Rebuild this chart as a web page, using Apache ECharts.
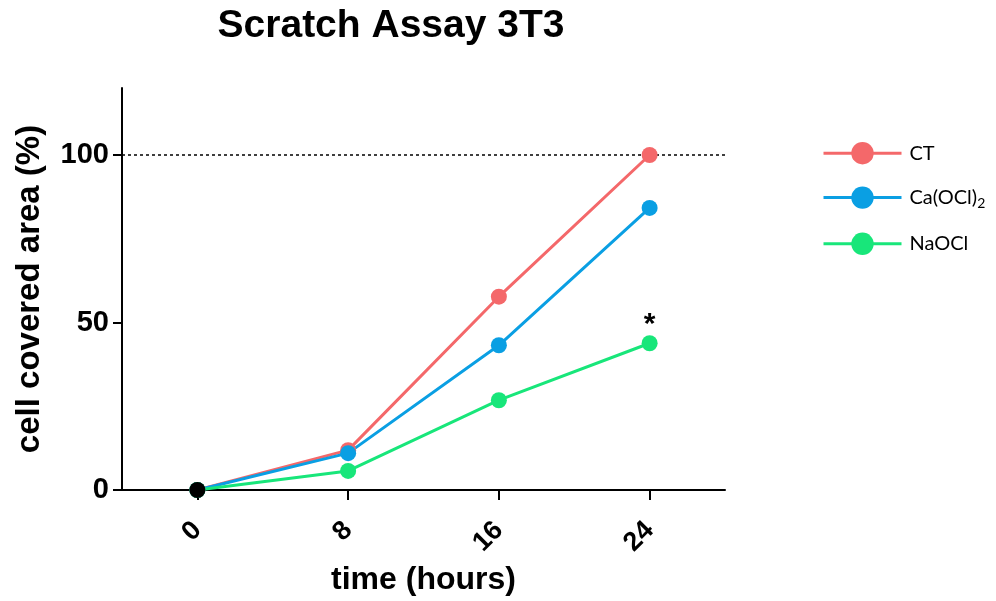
<!DOCTYPE html>
<html><head><meta charset="utf-8">
<script src="https://cdn.jsdelivr.net/npm/echarts@6/dist/echarts.min.js"></script>
<style>html,body{margin:0;padding:0;background:#fff}#c{width:996px;height:601px}</style>
</head><body><div id="c"></div>
<script>
const categories = ['0', '8', '16', '24'];
const ctValues = [0, 11.9, 57.7, 100];
const caValues = [0, 11.0, 43.2, 84.2];
const naValues = [0, 5.7, 26.8, 43.8];
const yTicks = [0, 50, 100];
const seriesNames = ['CT', 'Ca(OCl)2', 'NaOCl'];
const colors = ['#F4686A', '#0A9FE3', '#18E67A'];

const chart = echarts.init(document.getElementById('c'));
const font = '"Liberation Sans", Arial, sans-serif';
function lineSeries(name, data, color, extra) {
  return Object.assign({
    name: name, type: 'line', data: data, symbol: 'circle', symbolSize: 16,
    lineStyle: { width: 3, color: color }, itemStyle: { color: color },
    z: 3
  }, extra || {});
}
const naData = naValues.map((v, i) => i === naValues.length - 1
  ? { value: v, label: { show: true, formatter: '*', position: 'top', distance: -4, fontSize: 30, fontWeight: 'bold', color: '#000', fontFamily: font } }
  : v);
chart.setOption({
  animation: false,
  title: {
    text: 'Scratch Assay 3T3', left: 391, top: 7, textAlign: 'center', padding: 0,
    textStyle: { fontSize: 39, fontWeight: 'bold', color: '#000', fontFamily: font }
  },
  legend: {
    orient: 'vertical', left: 822, top: 142, itemWidth: 78, itemHeight: 28, itemGap: 22, padding: 0,
    data: seriesNames,
    lineStyle: { width: 3 },
    formatter: n => n === 'Ca(OCl)2' ? 'Ca(OCl){sub|2}' : n,
    textStyle: { fontSize: 20, color: '#000', fontFamily: 'Lato, sans-serif', padding: [0, 0, 0, 3],
      rich: { sub: { fontSize: 14, verticalAlign: 'bottom', padding: [12, 0, 0, 0], color: '#000', fontFamily: 'Lato, sans-serif' } } }
  },
  grid: { left: 122, right: 271, top: 88, bottom: 111, containLabel: false, outerBoundsMode: 'none' },
  xAxis: {
    type: 'category', data: categories, boundaryGap: true,
    name: 'time (hours)', nameLocation: 'middle', nameGap: 72,
    nameTextStyle: { fontSize: 32, fontWeight: 'bold', color: '#000', fontFamily: font },
    axisLine: { show: true, lineStyle: { color: '#000', width: 2 } },
    axisTick: { show: true, alignWithLabel: true, length: 10, lineStyle: { color: '#000', width: 2 } },
    axisLabel: { rotate: 45, fontSize: 27, fontWeight: 'bold', color: '#000', fontFamily: font, margin: 36 },
    splitLine: { show: false }
  },
  yAxis: {
    type: 'value', min: 0, max: 120, interval: 50,
    name: 'cell covered area (%)', nameLocation: 'middle', nameGap: 76,
    nameTextStyle: { fontSize: 33, fontWeight: 'bold', color: '#000', fontFamily: font },
    axisLine: { show: true, lineStyle: { color: '#000', width: 2 } },
    axisTick: { show: true, length: 9, customValues: yTicks, lineStyle: { color: '#000', width: 2 } },
    axisLabel: { fontSize: 29, fontWeight: 'bold', color: '#000', fontFamily: font, margin: 13, customValues: yTicks },
    splitLine: { show: false }
  },
  series: [
    lineSeries(seriesNames[0], ctValues, colors[0], {
      markLine: { silent: true, symbol: 'none', label: { show: false },
        lineStyle: { type: [3, 3], color: '#000', width: 1.5 }, data: [{ yAxis: 100 }], z: 1 }
    }),
    lineSeries(seriesNames[1], caValues, colors[1]),
    lineSeries(seriesNames[2], naData, colors[2]),
    { name: 'origin', type: 'scatter', data: [[0, 0]], symbolSize: 16, itemStyle: { color: '#000', opacity: 1 }, z: 5 }
  ]
});
</script></body></html>
